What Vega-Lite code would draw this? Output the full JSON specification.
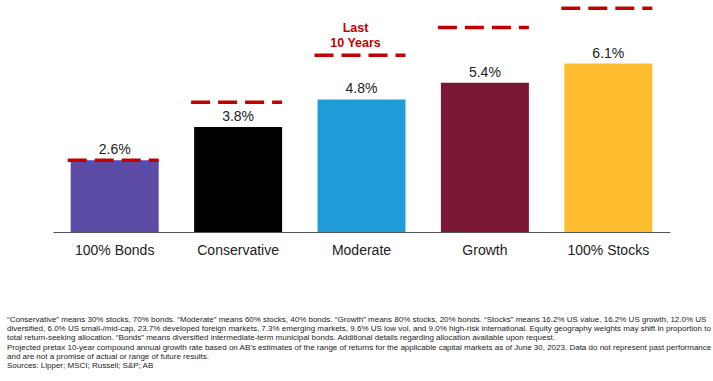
{
  "$schema": "https://vega.github.io/schema/vega-lite/v6.json",
  "width": 617,
  "height": 232,
  "autosize": {"type": "none"},
  "padding": {"left": 53, "right": 43, "top": 0, "bottom": 149},
  "background": "white",
  "config": {"view": {"stroke": null}, "font": "Liberation Sans"},
  "title": {
    "text": [
      "“Conservative” means 30% stocks, 70% bonds. “Moderate” means 60% stocks, 40% bonds. “Growth” means 80% stocks, 20% bonds. “Stocks” means 16.2% US value, 16.2% US growth, 12.0% US",
      "diversified, 6.0% US small-/mid-cap, 23.7% developed foreign markets, 7.3% emerging markets, 9.6% US low vol, and 9.0% high-risk international. Equity geography weights may shift in proportion to the",
      "total return-seeking allocation. “Bonds” means diversified intermediate-term municipal bonds. Additional details regarding allocation available upon request.",
      "Projected pretax 10-year compound annual growth rate based on AB’s estimates of the range of returns for the applicable capital markets as of June 30, 2023. Data do not represent past performance",
      "and are not a promise of actual or range of future results.",
      "Sources: Lipper; MSCI; Russell; S&P; AB"
    ],
    "orient": "bottom",
    "anchor": "start",
    "dx": -46,
    "offset": 59,
    "fontSize": 8,
    "fontWeight": "normal",
    "color": "#222222",
    "lineHeight": 9.2,
    "font": "Liberation Sans"
  },
  "data": {
    "values": [
      {"portfolio": "100% Bonds", "projected": 2.6, "label": "2.6%", "last10": 2.6},
      {"portfolio": "Conservative", "projected": 3.8, "label": "3.8%", "last10": 4.7},
      {"portfolio": "Moderate", "projected": 4.8, "label": "4.8%", "last10": 6.4},
      {"portfolio": "Growth", "projected": 5.4, "label": "5.4%", "last10": 7.4},
      {"portfolio": "100% Stocks", "projected": 6.1, "label": "6.1%", "last10": 8.1}
    ]
  },
  "encoding": {
    "x": {
      "field": "portfolio",
      "type": "nominal",
      "sort": null,
      "scale": {"paddingInner": 0.287, "paddingOuter": 0.1435},
      "axis": {
        "title": null,
        "labelAngle": 0,
        "ticks": false,
        "tickSize": 0,
        "labelPadding": 11,
        "labelBaseline": "top",
        "labelFont": "Liberation Sans",
        "labelFontSize": 14,
        "labelColor": "#222222",
        "domainColor": "#555555",
        "domainWidth": 1.2
      }
    }
  },
  "layer": [
    {
      "mark": {"type": "bar"},
      "encoding": {
        "y": {"field": "projected", "type": "quantitative", "scale": {"domain": [0, 8.4], "nice": false, "zero": true}, "axis": null},
        "color": {
          "field": "portfolio",
          "type": "nominal",
          "scale": {
            "domain": ["100% Bonds", "Conservative", "Moderate", "Growth", "100% Stocks"],
            "range": ["#5B4BA5", "#000000", "#1F9BD7", "#7A1734", "#FDBD2E"]
          },
          "legend": null
        }
      }
    },
    {
      "mark": {"type": "text", "baseline": "alphabetic", "dy": -6, "fontSize": 14, "color": "#222222"},
      "encoding": {
        "y": {"field": "projected", "type": "quantitative"},
        "text": {"field": "label", "type": "nominal"}
      }
    },
    {
      "mark": {"type": "rule", "color": "#C00000", "strokeWidth": 3.5, "strokeDash": [19, 8], "xOffset": -3, "x2Offset": 0},
      "encoding": {
        "x": {"field": "portfolio", "type": "nominal", "sort": null, "bandPosition": 0},
        "x2": {"field": "portfolio", "bandPosition": 1},
        "y": {"field": "last10", "type": "quantitative"}
      }
    },
    {
      "transform": [{"filter": "datum.portfolio === 'Moderate'"}],
      "mark": {
        "type": "text",
        "text": ["Last", "10 Years"],
        "color": "#C00000",
        "fontWeight": "bold",
        "fontSize": 12.5,
        "baseline": "bottom",
        "lineHeight": 15,
        "dy": -20,
        "dx": -6
      },
      "encoding": {
        "y": {"field": "last10", "type": "quantitative"}
      }
    }
  ]
}
